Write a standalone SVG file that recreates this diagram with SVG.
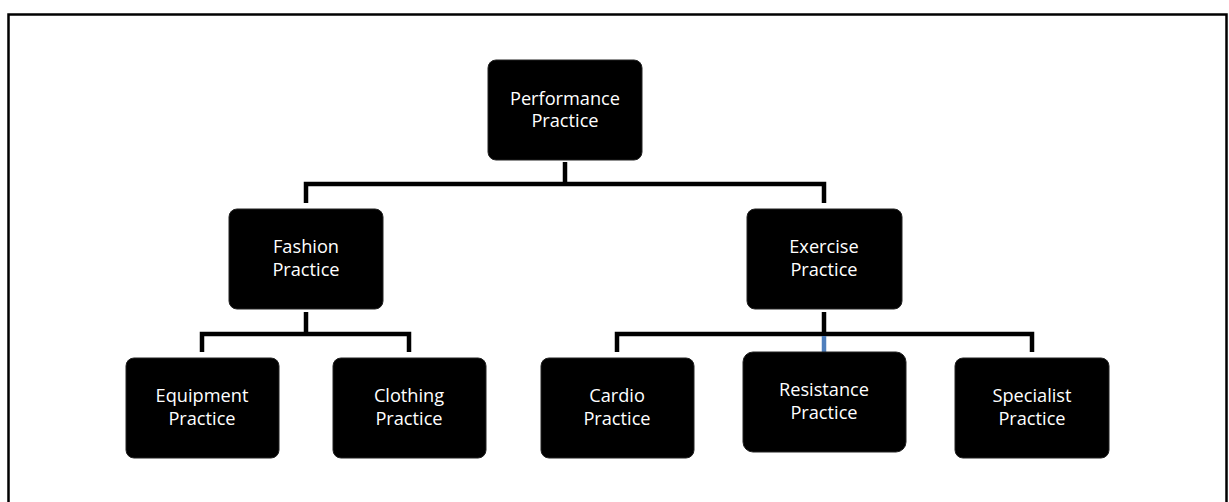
<svg xmlns="http://www.w3.org/2000/svg" width="1229" height="502" viewBox="0 0 1229 502">
<style>
.box{fill:#000;stroke:#222;stroke-width:1}
.lbl{font-family:"Open Sans","Liberation Sans",sans-serif;font-size:18.2px;fill:#fff;text-anchor:middle}
.con{fill:none;stroke:#000;stroke-width:4.5;stroke-linejoin:miter;stroke-linecap:butt}
</style>
<rect x="0" y="0" width="1229" height="502" fill="#fff"/>
<path d="M8.5 520 V14.5 H1226.5 V520" fill="none" stroke="#000" stroke-width="2.5"/>
<g id="connectors">
<path class="con" d="M565 162 V184"/>
<path class="con" d="M306 203 V184 H824 V203"/>
<path class="con" d="M306 312 V334"/>
<path class="con" d="M202 352 V334 H409 V352"/>
<path class="con" d="M824 312 V334"/>
<path class="con" d="M617 352 V334 H1032 V352"/>
<path d="M824 336 V352" fill="none" stroke="#4f7fbd" stroke-width="4.5"/>
</g>
<g id="performance"><rect class="box" x="488" y="60" width="154" height="100" rx="8"/><text class="lbl" x="565" y="105">Performance</text><text class="lbl" x="565" y="127">Practice</text></g>
<g id="fashion"><rect class="box" x="229" y="209" width="154" height="100" rx="8"/><text class="lbl" x="306" y="253">Fashion</text><text class="lbl" x="306" y="276">Practice</text></g>
<g id="exercise"><rect class="box" x="747" y="209" width="155" height="100" rx="8"/><text class="lbl" x="824" y="253">Exercise</text><text class="lbl" x="824" y="276">Practice</text></g>
<g id="equipment"><rect class="box" x="126" y="358" width="153" height="100" rx="8"/><text class="lbl" x="202" y="402">Equipment</text><text class="lbl" x="202" y="425">Practice</text></g>
<g id="clothing"><rect class="box" x="333" y="358" width="153" height="100" rx="8"/><text class="lbl" x="409" y="402">Clothing</text><text class="lbl" x="409" y="425">Practice</text></g>
<g id="cardio"><rect class="box" x="541" y="358" width="153" height="100" rx="8"/><text class="lbl" x="617" y="402">Cardio</text><text class="lbl" x="617" y="425">Practice</text></g>
<g id="resistance"><rect class="box" x="743" y="352" width="163" height="100" rx="10"/><text class="lbl" x="824" y="396">Resistance</text><text class="lbl" x="824" y="419">Practice</text></g>
<g id="specialist"><rect class="box" x="955" y="358" width="154" height="100" rx="8"/><text class="lbl" x="1032" y="402">Specialist</text><text class="lbl" x="1032" y="425">Practice</text></g>
</svg>
